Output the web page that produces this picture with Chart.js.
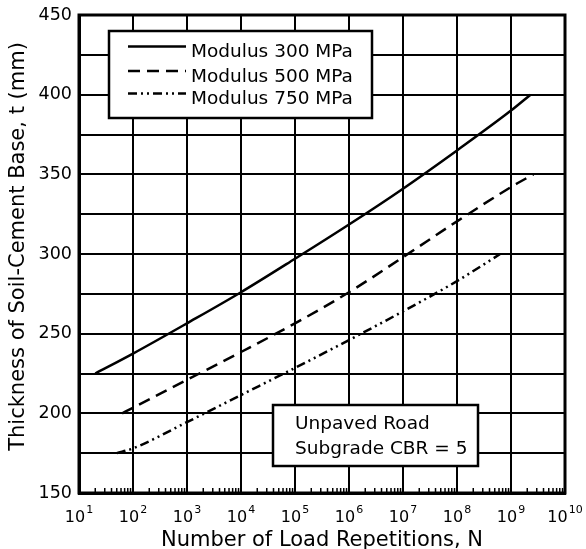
<!DOCTYPE html>
<html><head><meta charset="utf-8">
<script src="https://cdn.jsdelivr.net/npm/chart.js@4.4.1/dist/chart.umd.min.js"></script>
<style>html,body{margin:0;padding:0;background:#fff}canvas{display:block}</style>
</head><body>
<canvas id="c" width="586" height="549"></canvas>
<script>
// ---- data ----
const loadReps300 = [20, 1e2, 1e3, 1e4, 1e5, 1e6, 1e7, 1e8, 1e9, 2.3e9];
const thick300    = [225, 237.5, 256.5, 276, 297, 318.5, 341, 365, 390, 400];
const loadReps500 = [63, 1e2, 1e3, 1e4, 1e5, 1e6, 1e7, 1e8, 1e9, 2.6e9];
const thick500    = [200, 203.5, 221, 238.5, 256.5, 276, 298, 320.5, 342, 350];
const loadReps750 = [50, 1e2, 1e3, 1e4, 1e5, 1e6, 1e7, 1e8, 6.3e8];
const thick750    = [175, 178, 194.5, 211.5, 228.5, 246, 264, 283, 300];
const seriesLabels = ['Modulus 300 MPa', 'Modulus 500 MPa', 'Modulus 750 MPa'];
const xTickExponents = [1, 2, 3, 4, 5, 6, 7, 8, 9, 10];
const yTickLabels = [150, 200, 250, 300, 350, 400, 450];
const noteLines = ['Unpaved Road', 'Subgrade CBR = 5'];
const xTitle = 'Number of Load Repetitions, N';
const yTitle = 'Thickness of Soil-Cement Base, t (mm)';

const FONT = '"DejaVu Sans", sans-serif';
const dashes = [[], [12, 7], [9, 4, 2, 4, 2, 4]];
const toPts = (xs, ys) => xs.map((v, i) => ({x: v, y: ys[i]}));

const decor = {
  id: 'decor',
  afterDraw(chart) {
    const {ctx, chartArea: a, scales: {x}} = chart;
    ctx.save();
    ctx.strokeStyle = '#000'; ctx.fillStyle = '#000';
    // minor ticks
    ctx.lineWidth = 1.5;
    for (let e = 1; e < 10; e++) for (let k = 2; k < 10; k++) {
      const px = x.getPixelForValue(k * Math.pow(10, e));
      ctx.beginPath(); ctx.moveTo(px, a.bottom); ctx.lineTo(px, a.bottom - 5); ctx.stroke();
    }
    // frame
    ctx.lineWidth = 3;
    ctx.strokeRect(a.left, a.top, a.right - a.left, a.bottom - a.top);
    // x tick labels: 10 with superscript exponent
    ctx.textBaseline = 'alphabetic'; ctx.textAlign = 'left';
    xTickExponents.forEach(p => {
      const px = x.getPixelForValue(Math.pow(10, p));
      ctx.font = '16px ' + FONT; const w1 = ctx.measureText('10').width;
      ctx.font = '11px ' + FONT; const w2 = ctx.measureText(String(p)).width;
      const x0 = px - (w1 + w2 + 1) / 2;
      ctx.font = '16px ' + FONT; ctx.fillText('10', x0, a.bottom + 29);
      ctx.font = '11px ' + FONT; ctx.fillText(String(p), x0 + w1 + 1, a.bottom + 20);
    });
    // y axis title (rotated)
    ctx.save();
    ctx.translate(19, 246.5); ctx.rotate(-Math.PI / 2);
    ctx.textAlign = 'center'; ctx.textBaseline = 'middle';
    ctx.font = '21px ' + FONT;
    ctx.fillText(yTitle, 0, 0);
    ctx.restore();
    // legend box
    ctx.lineWidth = 2.5;
    ctx.fillStyle = '#fff';
    ctx.fillRect(109, 31, 263, 87); ctx.strokeRect(109, 31, 263, 87);
    ctx.fillStyle = '#000';
    const rowsLine = [46.5, 71, 93.5], rowsText = [57, 81.5, 104];
    seriesLabels.forEach((lab, i) => {
      ctx.setLineDash(dashes[i]);
      ctx.beginPath(); ctx.moveTo(128, rowsLine[i]); ctx.lineTo(186, rowsLine[i]); ctx.stroke();
      ctx.setLineDash([]);
      ctx.font = '18.5px ' + FONT; ctx.fillText(lab, 191, rowsText[i]);
    });
    // note box
    ctx.fillStyle = '#fff';
    ctx.fillRect(273, 405, 205, 61); ctx.strokeRect(273, 405, 205, 61);
    ctx.fillStyle = '#000';
    ctx.font = '18.5px ' + FONT;
    ctx.fillText(noteLines[0], 295, 429);
    ctx.fillText(noteLines[1], 295, 454);
    ctx.restore();
  }
};

const lineDs = (lab, xs, ys, i) => ({
  label: lab, data: toPts(xs, ys), borderColor: '#000', borderWidth: 2.5,
  borderDash: dashes[i], pointRadius: 0, fill: false,
  cubicInterpolationMode: 'monotone', tension: 0.4
});

new Chart(document.getElementById('c'), {
  type: 'line',
  data: { datasets: [
    lineDs(seriesLabels[0], loadReps300, thick300, 0),
    lineDs(seriesLabels[1], loadReps500, thick500, 1),
    lineDs(seriesLabels[2], loadReps750, thick750, 2)
  ]},
  options: {
    responsive: false, animation: false, devicePixelRatio: 1,
    layout: { padding: { top: 15, right: 21, left: 0, bottom: 0 } },
    plugins: { legend: { display: false }, tooltip: { enabled: false } },
    scales: {
      x: {
        type: 'logarithmic', min: 10, max: 1e10,
        afterBuildTicks: s => { s.ticks = xTickExponents.map(p => ({ value: Math.pow(10, p) })); },
        afterFit: s => { s.height = 56; s.paddingLeft = 0; s.paddingRight = 0; },
        ticks: { display: false },
        grid: { color: '#000', lineWidth: 2, drawTicks: false },
        border: { display: true, color: '#000', width: 3 },
        title: { display: true, text: xTitle, color: '#000',
                 font: { family: FONT, size: 21, lineHeight: 1 }, padding: { top: 0, bottom: -2 } }
      },
      y: {
        min: 150, max: 450,
        ticks: { stepSize: 25, autoSkip: false, color: '#000', padding: 7,
                 font: { family: FONT, size: 17.5 },
                 callback: v => yTickLabels.includes(v) ? String(v) : '' },
        afterFit: s => { s.width = 79; s.paddingTop = 0; s.paddingBottom = 0; },
        grid: { color: '#000', lineWidth: 2, drawTicks: false },
        border: { display: true, color: '#000', width: 3 },
        title: { display: false }
      }
    }
  },
  plugins: [decor]
});
</script>
</body></html>
